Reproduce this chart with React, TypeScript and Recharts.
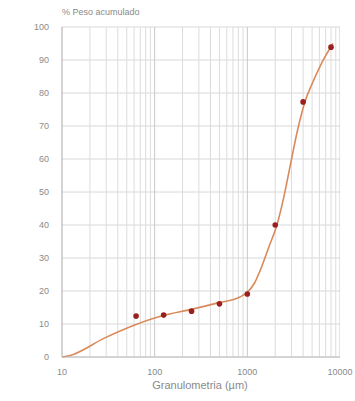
import React from 'react';
import { ComposedChart, Line, Scatter, XAxis, YAxis, ReferenceLine, CartesianGrid } from 'recharts';

// Sieve sizes (µm) and accumulated weight (%)
const sieveSizes = [63, 125, 250, 500, 1000, 2000, 4000, 8000];
const accumulated = [12.4, 12.7, 13.9, 16.1, 19.1, 40, 77.3, 93.9];

// Fitted curve
const curveX = [10, 12, 29, 61, 129, 229, 482, 832, 1000, 1200, 1435, 1700, 2084, 2500, 2950, 3500, 4180, 5000, 6070, 7000, 8400];
const curveY = [0, 0.4, 5.8, 9.7, 12.7, 14.2, 16.4, 18.2, 19.6, 22.5, 27.5, 33.2, 40, 49, 59, 69, 77.3, 82.8, 88, 91.3, 95];

const xTicks = [10, 100, 1000, 10000];
const yTicks = [0, 10, 20, 30, 40, 50, 60, 70, 80, 90, 100];
const minorX = [20, 30, 40, 50, 60, 70, 80, 90, 200, 300, 400, 500, 600, 700, 800, 900, 2000, 3000, 4000, 5000, 6000, 7000, 8000, 9000];
const majorX = [100, 1000, 10000];

const pointData = sieveSizes.map((x, i) => ({ x, y: accumulated[i] }));
const curveData = curveX.map((x, i) => ({ x, y: curveY[i] }));

const FONT = '"Liberation Sans", Arial, sans-serif';

export default function App() {
  return (
    <div style={{ position: 'absolute', left: 0, top: 0, width: 355, height: 401, background: '#fff' }}>
      <ComposedChart width={355} height={401} margin={{ top: 27, right: 15, bottom: 14, left: 0 }}>
        <CartesianGrid vertical={false} stroke="#d8d8d8" strokeWidth={1} />
        {minorX.map((v) => (
          <ReferenceLine key={'m' + v} x={v} stroke="#dcdcdc" strokeWidth={1} ifOverflow="hidden" />
        ))}
        {majorX.map((v) => (
          <ReferenceLine key={'M' + v} x={v} stroke="#c8c8c8" strokeWidth={1} ifOverflow="hidden" />
        ))}
        <XAxis
          dataKey="x"
          type="number"
          scale="log"
          domain={[10, 10000]}
          ticks={xTicks}
          allowDataOverflow
          height={30}
          tickLine={false}
          axisLine={{ stroke: '#bdbdbd' }}
          tick={{ fill: '#8a8a8a', fontSize: 9, fontFamily: FONT }}
          tickMargin={6}
        />
        <YAxis
          dataKey="y"
          type="number"
          domain={[0, 100]}
          ticks={yTicks}
          width={62}
          tickLine={false}
          axisLine={{ stroke: '#a8a8a8' }}
          tick={{ fill: '#8a8a8a', fontSize: 9, fontFamily: FONT }}
          tickMargin={7}
        />
        <Line
          data={curveData}
          dataKey="y"
          type="monotone"
          stroke="#d98a5c"
          strokeWidth={1.6}
          dot={false}
          isAnimationActive={false}
        />
        <Scatter
          data={pointData}
          dataKey="y"
          fill="#9a1f1f"
          shape={(p: any) => <circle cx={p.cx} cy={p.cy} r={2.8} fill="#9a1f1f" />}
          isAnimationActive={false}
        />
        <text x={62} y={15} fill="#8a8a8a" fontSize={9} fontFamily={FONT}>% Peso acumulado</text>
        <text x={200} y={389} fill="#8a8a8a" fontSize={11} fontFamily={FONT} textAnchor="middle">Granulometria (µm)</text>
      </ComposedChart>
    </div>
  );
}
